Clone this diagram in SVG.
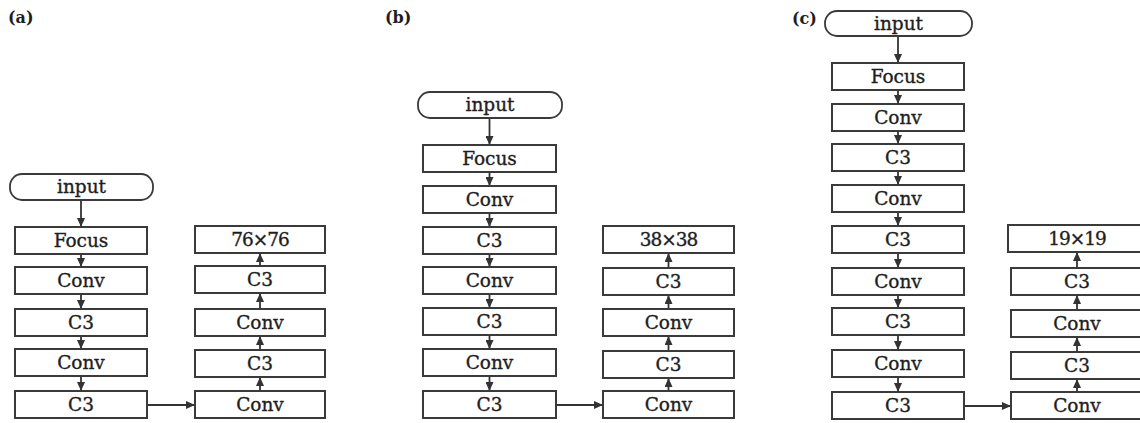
<svg xmlns="http://www.w3.org/2000/svg" width="1140" height="423" viewBox="0 0 1140 423">
  <style>
    .box { fill: #ffffff; stroke: #3a3a3a; stroke-width: 2; }
    .term { fill: #ffffff; stroke: #3a3a3a; stroke-width: 1.8; }
    .lbl { font-family: "DejaVu Serif", "Liberation Serif", serif; font-size: 18.5px; fill: #1e1e1e; stroke: #1e1e1e; stroke-width: 0.35; text-anchor: middle; }
    .tag { font-family: "DejaVu Serif", "Liberation Serif", serif; font-size: 16px; font-weight: bold; fill: #1e1e1e; }
    .link { stroke: #333333; stroke-width: 1.8; fill: none; marker-end: url(#ah); }
  </style>
  <defs>
    <marker id="ah" viewBox="0 0 9 8" refX="9" refY="4" markerWidth="9" markerHeight="8" markerUnits="userSpaceOnUse" orient="auto" preserveAspectRatio="none">
      <path d="M0,0 L9,4 L0,8 z" fill="#333333"/>
    </marker>
  </defs>
  <rect width="1140" height="423" fill="#ffffff"/>

  <!-- panel tags -->
  <text class="tag" x="8" y="23">(a)</text>
  <text class="tag" x="385" y="23">(b)</text>
  <text class="tag" x="792" y="24">(c)</text>

  <!-- connectors -->
  <g id="connectors">
    <!-- (a) backbone -->
    <line class="link" x1="81" y1="200" x2="81" y2="227"/>
    <line class="link" x1="81" y1="254" x2="81" y2="267"/>
    <line class="link" x1="81" y1="294" x2="81" y2="309"/>
    <line class="link" x1="81" y1="336" x2="81" y2="349"/>
    <line class="link" x1="81" y1="376" x2="81" y2="391"/>
    <line class="link" x1="147" y1="405" x2="195" y2="405"/>
    <line class="link" x1="260" y1="391" x2="260" y2="377"/>
    <line class="link" x1="260" y1="350" x2="260" y2="336"/>
    <line class="link" x1="260" y1="309" x2="260" y2="293"/>
    <line class="link" x1="260" y1="266" x2="260" y2="253"/>
    <!-- (b) backbone -->
    <line class="link" x1="489.5" y1="118" x2="489.5" y2="145"/>
    <line class="link" x1="489.5" y1="172" x2="489.5" y2="186"/>
    <line class="link" x1="489.5" y1="213" x2="489.5" y2="227"/>
    <line class="link" x1="489.5" y1="254" x2="489.5" y2="267"/>
    <line class="link" x1="489.5" y1="294" x2="489.5" y2="308"/>
    <line class="link" x1="489.5" y1="335" x2="489.5" y2="349"/>
    <line class="link" x1="489.5" y1="376" x2="489.5" y2="391"/>
    <line class="link" x1="556" y1="405" x2="603" y2="405"/>
    <line class="link" x1="668.5" y1="391" x2="668.5" y2="378"/>
    <line class="link" x1="668.5" y1="351" x2="668.5" y2="336"/>
    <line class="link" x1="668.5" y1="309" x2="668.5" y2="295"/>
    <line class="link" x1="668.5" y1="268" x2="668.5" y2="253"/>
    <!-- (c) backbone -->
    <line class="link" x1="898" y1="36" x2="898" y2="63"/>
    <line class="link" x1="898" y1="90" x2="898" y2="104"/>
    <line class="link" x1="898" y1="131" x2="898" y2="144"/>
    <line class="link" x1="898" y1="171" x2="898" y2="185"/>
    <line class="link" x1="898" y1="212" x2="898" y2="226"/>
    <line class="link" x1="898" y1="253" x2="898" y2="268"/>
    <line class="link" x1="898" y1="295" x2="898" y2="308"/>
    <line class="link" x1="898" y1="335" x2="898" y2="350"/>
    <line class="link" x1="898" y1="377" x2="898" y2="392"/>
    <line class="link" x1="964" y1="406" x2="1011" y2="406"/>
    <line class="link" x1="1077" y1="392" x2="1077" y2="379"/>
    <line class="link" x1="1077" y1="352" x2="1077" y2="337"/>
    <line class="link" x1="1077" y1="310" x2="1077" y2="295"/>
    <line class="link" x1="1077" y1="268" x2="1077" y2="252"/>
  </g>

  <!-- (a) nodes -->
  <g id="a-input"><rect class="term" x="10" y="174" width="143" height="26" rx="12"/><text class="lbl" x="81.5" y="193">input</text></g>
  <g id="a-focus"><rect class="box" x="15" y="227" width="132" height="27"/><text class="lbl" x="81" y="247">Focus</text></g>
  <g id="a-conv1"><rect class="box" x="15" y="267" width="132" height="27"/><text class="lbl" x="81" y="287">Conv</text></g>
  <g id="a-c3-1"><rect class="box" x="15" y="309" width="132" height="27"/><text class="lbl" x="81" y="329">C3</text></g>
  <g id="a-conv2"><rect class="box" x="15" y="349" width="132" height="27"/><text class="lbl" x="81" y="369">Conv</text></g>
  <g id="a-c3-2"><rect class="box" x="15" y="391" width="132" height="27"/><text class="lbl" x="81" y="411">C3</text></g>
  <g id="a-out"><rect class="box" x="195" y="226" width="130" height="27"/><text class="lbl" x="260" y="246" letter-spacing="-1">76×76</text></g>
  <g id="a-c3-up2"><rect class="box" x="195" y="266" width="130" height="27"/><text class="lbl" x="260" y="286">C3</text></g>
  <g id="a-conv-up2"><rect class="box" x="195" y="309" width="130" height="27"/><text class="lbl" x="260" y="329">Conv</text></g>
  <g id="a-c3-up1"><rect class="box" x="195" y="350" width="130" height="27"/><text class="lbl" x="260" y="370">C3</text></g>
  <g id="a-conv-up1"><rect class="box" x="195" y="391" width="130" height="27"/><text class="lbl" x="260" y="411">Conv</text></g>

  <!-- (b) nodes -->
  <g id="b-input"><rect class="term" x="418" y="92" width="144" height="26" rx="12"/><text class="lbl" x="490" y="111">input</text></g>
  <g id="b-focus"><rect class="box" x="423" y="145" width="133" height="27"/><text class="lbl" x="489.5" y="165">Focus</text></g>
  <g id="b-conv1"><rect class="box" x="423" y="186" width="133" height="27"/><text class="lbl" x="489.5" y="206">Conv</text></g>
  <g id="b-c3-1"><rect class="box" x="423" y="227" width="133" height="27"/><text class="lbl" x="489.5" y="247">C3</text></g>
  <g id="b-conv2"><rect class="box" x="423" y="267" width="133" height="27"/><text class="lbl" x="489.5" y="287">Conv</text></g>
  <g id="b-c3-2"><rect class="box" x="423" y="308" width="133" height="27"/><text class="lbl" x="489.5" y="328">C3</text></g>
  <g id="b-conv3"><rect class="box" x="423" y="349" width="133" height="27"/><text class="lbl" x="489.5" y="369">Conv</text></g>
  <g id="b-c3-3"><rect class="box" x="423" y="391" width="133" height="27"/><text class="lbl" x="489.5" y="411">C3</text></g>
  <g id="b-out"><rect class="box" x="603" y="226" width="131" height="27"/><text class="lbl" x="668.5" y="246" letter-spacing="-1">38×38</text></g>
  <g id="b-c3-up2"><rect class="box" x="603" y="268" width="131" height="27"/><text class="lbl" x="668.5" y="288">C3</text></g>
  <g id="b-conv-up2"><rect class="box" x="603" y="309" width="131" height="27"/><text class="lbl" x="668.5" y="329">Conv</text></g>
  <g id="b-c3-up1"><rect class="box" x="603" y="351" width="131" height="27"/><text class="lbl" x="668.5" y="371">C3</text></g>
  <g id="b-conv-up1"><rect class="box" x="603" y="391" width="131" height="27"/><text class="lbl" x="668.5" y="411">Conv</text></g>

  <!-- (c) nodes -->
  <g id="c-input"><rect class="term" x="825" y="11" width="147" height="25" rx="12"/><text class="lbl" x="898.5" y="29.5">input</text></g>
  <g id="c-focus"><rect class="box" x="832" y="63" width="132" height="27"/><text class="lbl" x="898" y="83">Focus</text></g>
  <g id="c-conv1"><rect class="box" x="832" y="104" width="132" height="27"/><text class="lbl" x="898" y="124">Conv</text></g>
  <g id="c-c3-1"><rect class="box" x="832" y="144" width="132" height="27"/><text class="lbl" x="898" y="164">C3</text></g>
  <g id="c-conv2"><rect class="box" x="832" y="185" width="132" height="27"/><text class="lbl" x="898" y="205">Conv</text></g>
  <g id="c-c3-2"><rect class="box" x="832" y="226" width="132" height="27"/><text class="lbl" x="898" y="246">C3</text></g>
  <g id="c-conv3"><rect class="box" x="832" y="268" width="132" height="27"/><text class="lbl" x="898" y="288">Conv</text></g>
  <g id="c-c3-3"><rect class="box" x="832" y="308" width="132" height="27"/><text class="lbl" x="898" y="328">C3</text></g>
  <g id="c-conv4"><rect class="box" x="832" y="350" width="132" height="27"/><text class="lbl" x="898" y="370">Conv</text></g>
  <g id="c-c3-4"><rect class="box" x="832" y="392" width="132" height="27"/><text class="lbl" x="898" y="412">C3</text></g>
  <g id="c-out"><rect class="box" x="1008" y="225" width="140" height="27"/><text class="lbl" x="1077" y="245" letter-spacing="-1">19×19</text></g>
  <g id="c-c3-up2"><rect class="box" x="1011" y="268" width="137" height="27"/><text class="lbl" x="1077" y="288">C3</text></g>
  <g id="c-conv-up2"><rect class="box" x="1011" y="310" width="137" height="27"/><text class="lbl" x="1077" y="330">Conv</text></g>
  <g id="c-c3-up1"><rect class="box" x="1011" y="352" width="137" height="27"/><text class="lbl" x="1077" y="372">C3</text></g>
  <g id="c-conv-up1"><rect class="box" x="1011" y="392" width="137" height="27"/><text class="lbl" x="1077" y="412">Conv</text></g>
</svg>
